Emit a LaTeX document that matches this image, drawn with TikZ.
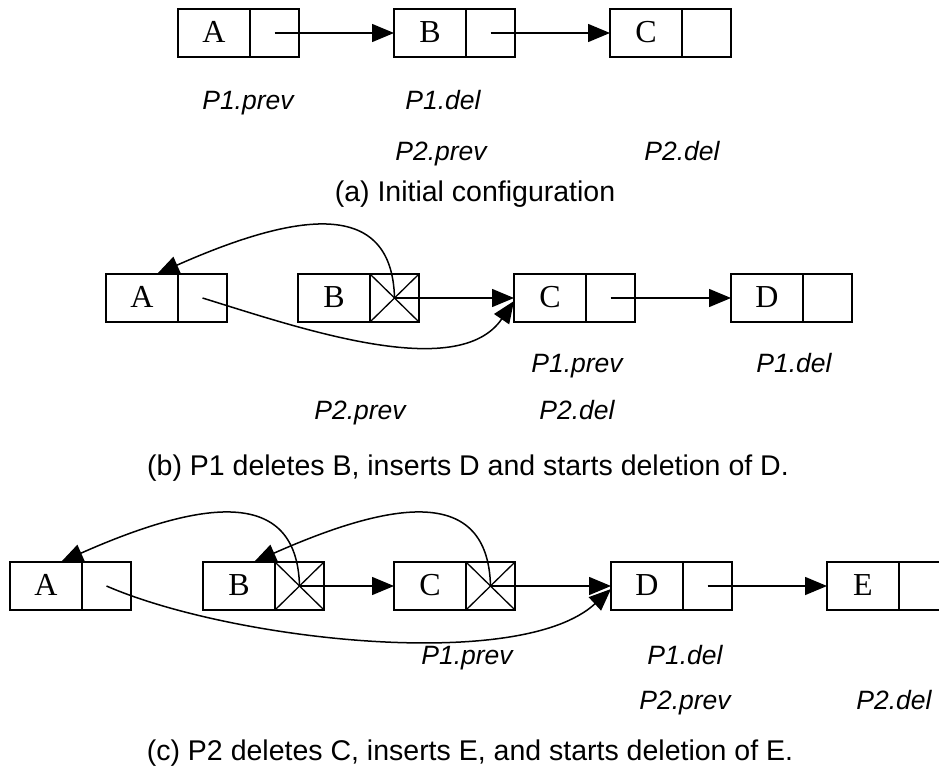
\documentclass[tikz,border=0pt]{standalone}
\usepackage{fontspec}
\setmainfont{Liberation Serif}
\newfontfamily\arialfont{Liberation Sans}
\usetikzlibrary{arrows.meta,calc}

\tikzset{
  valcell/.style={draw, line width=1.7pt, anchor=north west, minimum width=72pt,
    minimum height=48pt, inner sep=0pt, outer sep=0pt,
    font=\fontsize{32}{38}\selectfont},
  ptrcell/.style={draw, line width=1.7pt, anchor=north west, minimum width=49pt,
    minimum height=48pt, inner sep=0pt, outer sep=0pt},
  deadcell/.style={ptrcell, path picture={
    \draw[line width=1.3pt] (path picture bounding box.north west) -- (path picture bounding box.south east);
    \draw[line width=1.3pt] (path picture bounding box.south west) -- (path picture bounding box.north east);}},
  ptr/.style={line width=1.5pt, -{Triangle[length=22pt,width=18pt]}},
  lbl/.style={anchor=base, inner sep=0pt, font=\arialfont\itshape\fontsize{26.5}{30}\selectfont},
  capt/.style={anchor=base, inner sep=0pt, font=\arialfont\fontsize{28.5}{32}\selectfont}
}

% a list element: value cell with its letter, then the pointer cell
\newcommand\elem[5]{%
  \node[valcell] (#1v) at (#2,#3) {\raisebox{2pt}{#4}};
  \node[#5] (#1p) at (#2+72,#3) {};
}

\begin{document}
\begin{tikzpicture}[x=1pt,y=-1pt]
\useasboundingbox (0,0) rectangle (939,767);

% ---------- (a) initial configuration ----------
\elem{Aa}{178}{9}{A}{ptrcell}
\elem{Ba}{394}{9}{B}{ptrcell}
\elem{Ca}{610}{9}{C}{ptrcell}
\draw[ptr] (Aap.center) -- (Bav.west);
\draw[ptr] (Bap.center) -- (Cav.west);

\node[lbl] (a1) at (248,110) {P1.prev};
\node[lbl] (a2) at (443,110) {P1.del};
\node[lbl] (a3) at (441,161) {P2.prev};
\node[lbl] (a4) at (682,161) {P2.del};
\node[capt] (capa) at (475,202) {(a) Initial configuration};

% ---------- (b) P1 deletes B, inserts D ----------
\elem{Ab}{106}{274}{A}{ptrcell}
\elem{Bb}{298}{274}{B}{deadcell}
\elem{Cb}{514}{274}{C}{ptrcell}
\elem{Db}{731}{274}{D}{ptrcell}
\draw[ptr] (Bbp.center) .. controls +(-2.5,-100) and +(140,-62) .. ($(Abv.north)+(15,0)$);
\draw[ptr] (Abp.center) .. controls +(97,30) and +(-56,82) .. ($(Cbv.west)+(0,3)$);
\draw[ptr] (Bbp.center) -- (Cbv.west);
\draw[ptr] (Cbp.center) -- (Dbv.west);

\node[lbl] (b1) at (577,372) {P1.prev};
\node[lbl] (b2) at (794,372) {P1.del};
\node[lbl] (b3) at (360,419) {P2.prev};
\node[lbl] (b4) at (577,419) {P2.del};
\node[capt] (capb) at (468,475) {(b) P1 deletes B, inserts D and starts deletion of D.};

% ---------- (c) P2 deletes C, inserts E ----------
\elem{Ac}{10}{562}{A}{ptrcell}
\elem{Bc}{203}{562}{B}{deadcell}
\elem{Cc}{394}{562}{C}{deadcell}
\elem{Dc}{611}{562}{D}{ptrcell}
\elem{Ec}{827}{562}{E}{ptrcell}
\draw[ptr] (Bcp.center) .. controls +(-2.5,-100) and +(140,-62) .. ($(Acv.north)+(15,0)$);
\draw[ptr] (Ccp.center) .. controls +(-2.5,-100) and +(140,-62) .. ($(Bcv.north)+(15,0)$);
\draw[ptr] (Acp.center) .. controls +(124,54) and +(-91,84) .. ($(Dcv.west)+(0,3)$);
\draw[ptr] (Bcp.center) -- (Ccv.west);
\draw[ptr] (Ccp.center) -- (Dcv.west);
\draw[ptr] (Dcp.center) -- (Ecv.west);

\node[lbl] (c1) at (467,664) {P1.prev};
\node[lbl] (c2) at (685,664) {P1.del};
\node[lbl] (c3) at (685,709) {P2.prev};
\node[lbl] (c4) at (894,709) {P2.del};
\node[capt] (capc) at (470,760) {(c) P2 deletes C, inserts E, and starts deletion of E.};
\end{tikzpicture}
\end{document}
